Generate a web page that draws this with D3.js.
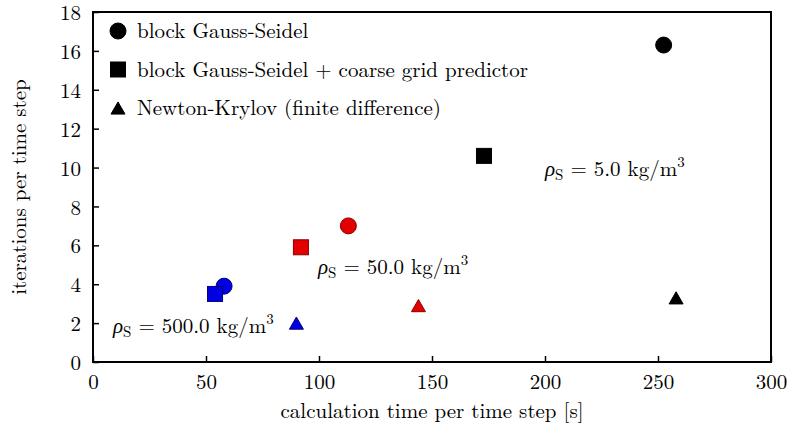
<!DOCTYPE html>
<html><head><meta charset="utf-8">
<script src="https://cdn.jsdelivr.net/npm/d3@7"></script>
<style>body{margin:0;background:#fff}</style>
</head><body><svg id="c" width="793" height="433"></svg>
<script>
const seriesNames = ["block Gauss-Seidel", "block Gauss-Seidel + coarse grid predictor", "Newton-Krylov (finite difference)"];
const seriesShapes = ["circle", "square", "triangle"];
const densities = ["5.0", "50.0", "500.0"];
const densityColors = ["#000000", "#e30000", "#0000e0"];
const densityStrokes = ["#000000", "#8a0000", "#00007a"];
// calculation time per time step [s] / iterations per time step, per density (5, 50, 500)
const timeGS    = [252.5, 113, 58];
const itersGS   = [16.3, 7.0, 3.9];
const timeGSCG  = [173, 92, 54];
const itersGSCG = [10.6, 5.9, 3.5];
const timeNK    = [258, 144, 90];
const itersNK   = [3.3, 2.9, 2.0];
const xTicks = [0, 50, 100, 150, 200, 250, 300];
const yTicks = [0, 2, 4, 6, 8, 10, 12, 14, 16, 18];
const xLabel = "calculation time per time step [s]";
const yLabel = "iterations per time step";

const FONT = '"Latin Modern Roman"';
const FS = "21px";
const svg = d3.select("#c");
const m = {l: 93, r: 771, t: 12, b: 362};
const x = d3.scaleLinear().domain([0, 300]).range([m.l, m.r]);
const y = d3.scaleLinear().domain([0, 18]).range([m.b, m.t]);

// axes
const gx = svg.append("g").attr("transform", `translate(0,${m.b})`)
  .call(d3.axisBottom(x).tickValues(xTicks).tickSize(-6).tickPadding(10).tickFormat(d3.format("d")));
const gy = svg.append("g").attr("transform", `translate(${m.l},0)`)
  .call(d3.axisLeft(y).tickValues(yTicks).tickSize(-6).tickPadding(12).tickFormat(d3.format("d")));
[gx, gy].forEach(g => {
  g.attr("font-family", FONT).attr("font-size", FS);
  g.select(".domain").remove();
  g.selectAll(".tick line").attr("stroke", "#000").attr("stroke-width", 1.5);
  g.selectAll(".tick text").style("font-family", FONT).style("font-size", FS).attr("fill", "#000");
});
gx.selectAll(".tick text").attr("dy", "0.8em");
gy.selectAll(".tick text").attr("dy", "0.36em");
svg.append("rect").attr("x", m.l).attr("y", m.t).attr("width", m.r - m.l).attr("height", m.b - m.t)
  .attr("fill", "none").attr("stroke", "#000").attr("stroke-width", 2);

function txt(sel) { return sel.style("font-family", FONT).style("font-size", FS).attr("fill", "#000"); }

txt(svg.append("text")).attr("x", 432).attr("y", 418).attr("text-anchor", "middle").text(xLabel);
txt(svg.append("text")).attr("transform", `translate(26,${(m.t + m.b) / 2}) rotate(-90)`).attr("text-anchor", "middle").text(yLabel);

// markers
function marker(g, shape, cx, cy, fill, stroke, s) {
  let el;
  if (shape === "circle") el = g.append("circle").attr("cx", cx).attr("cy", cy).attr("r", s / 2 + 0.5);
  else if (shape === "square") el = g.append("rect").attr("x", cx - s / 2).attr("y", cy - s / 2).attr("width", s).attr("height", s);
  else {
    const h = s * 0.87;
    el = g.append("path").attr("d", `M${cx - s / 2},${cy + h / 2}L${cx + s / 2},${cy + h / 2}L${cx},${cy - h / 2}Z`);
  }
  el.attr("fill", fill).attr("stroke", stroke).attr("stroke-width", 1);
}
const sets = [[timeGS, itersGS], [timeGSCG, itersGSCG], [timeNK, itersNK]];
sets.forEach(([tx, ty], si) => {
  tx.forEach((t, di) => {
    marker(svg.append("g"), seriesShapes[si], x(t), y(ty[di]), densityColors[di], densityStrokes[di], si === 2 ? 14 : 15);
  });
});

// legend
const lg = svg.append("g");
seriesNames.forEach((n, i) => {
  const cy = 31 + i * 38.5;
  marker(lg.append("g"), seriesShapes[i], 118, cy, "#000", "#000", i === 2 ? 14 : 15);
  txt(lg.append("text")).attr("x", 137).attr("y", cy + 7).text(n);
});

// density annotations
const annX = [545, 318, 113];
const annY = [176, 274, 333];
densities.forEach((d, i) => {
  const t = txt(svg.append("text")).attr("x", annX[i]).attr("y", annY[i]);
  t.append("tspan").style("font-style", "italic").text("ρ");
  t.append("tspan").attr("dy", 4).style("font-size", "15px").text("S");
  t.append("tspan").attr("dy", -4).text(` = ${d} kg/m`);
  t.append("tspan").attr("dy", -9).style("font-size", "15px").text("3");
});
</script></body></html>
